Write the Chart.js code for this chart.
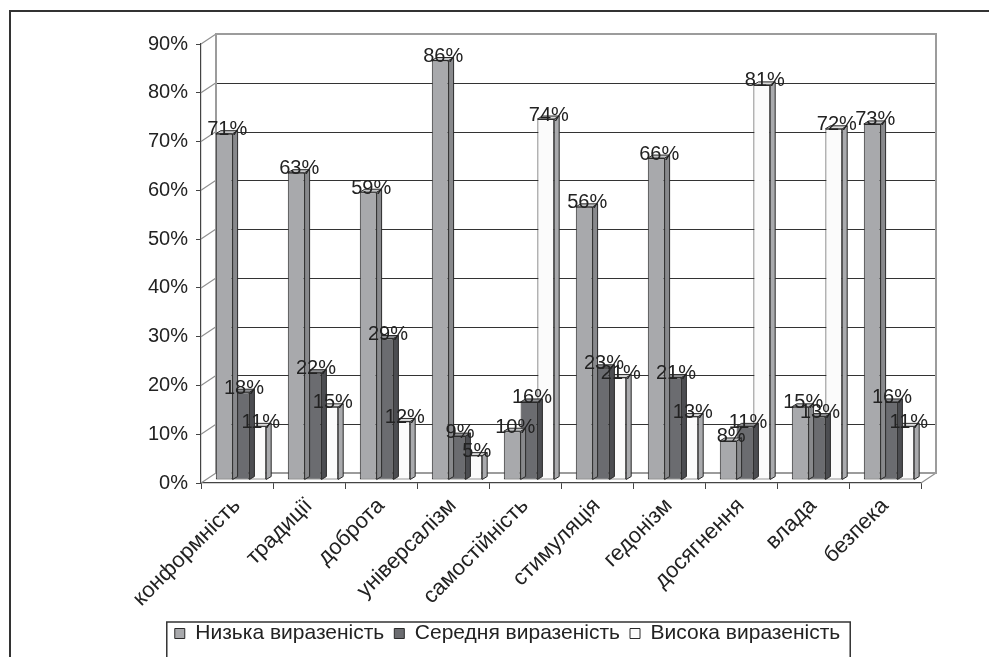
<!DOCTYPE html>
<html>
<head>
<meta charset="utf-8">
<script src="https://cdn.jsdelivr.net/npm/chart.js@4.4.1/dist/chart.umd.min.js"></script>
<style>
  html,body{margin:0;padding:0;background:#fff;overflow:hidden}
  #wrap{width:989px;height:657px}
</style>
</head>
<body>
<div id="wrap"><canvas id="chart" width="989" height="657"></canvas></div>
<script>
/* ---------- DATA ---------- */
const categories = ['конформність','традиції','доброта','універсалізм','самостійність','стимуляція','гедонізм','досягнення','влада','безпека'];
const seriesNames = ['Низька виразеність','Середня виразеність','Висока виразеність'];
const lowValues  = [71, 63, 59, 86, 10, 56, 66,  8, 15, 73];
const midValues  = [18, 22, 29,  9, 16, 23, 21, 11, 13, 16];
const highValues = [11, 15, 12,  5, 74, 21, 13, 81, 72, 11];
const yMax = 90, yStep = 10;

/* ---------- LOOK ---------- */
const FONT = '"Liberation Sans", Arial, sans-serif';
const fronts = ['#a8a9ac', '#6b6c70', '#fbfbfb'];
const sides  = ['#88898c', '#4c4d51', '#a9aaad'];
const tops   = ['#c4c5c7', '#8d8e91', '#d9d9d9'];
const DX = 15, DY = -10;  // back wall offset
const BX = 4,  BY = -3;   // bars sit between front axis and wall
const SX = 5,  SY = -3;   // bar depth

Chart.defaults.font.family = FONT;
Chart.defaults.color = '#222';

const wall3d = {
  id: 'wall3d',
  beforeDraw(chart){
    const c = chart.ctx;
    c.save();
    c.fillStyle = '#fff'; c.fillRect(0, 0, chart.width, chart.height);
    c.strokeStyle = '#333'; c.lineWidth = 2;
    c.beginPath(); c.moveTo(10, 720); c.lineTo(10, 11); c.lineTo(1000, 11); c.stroke();
    c.restore();
  },
  beforeDatasetsDraw(chart){
    const {ctx, chartArea: a, scales: {y}} = chart;
    const y0 = y.getPixelForValue(0), yTop = y.getPixelForValue(yMax);
    ctx.save();
    // gridlines on the back wall
    ctx.strokeStyle = '#333'; ctx.lineWidth = 1;
    y.ticks.forEach(t => {
      if (t.value <= 0 || t.value >= yMax) return;
      const py = Math.round(y.getPixelForValue(t.value) + DY) + 0.5;
      ctx.beginPath(); ctx.moveTo(a.left + DX, py); ctx.lineTo(a.right + DX, py); ctx.stroke();
    });
    // side wall diagonals
    ctx.strokeStyle = '#8f8f8f'; ctx.lineWidth = 1.2;
    y.ticks.forEach(t => {
      const py = y.getPixelForValue(t.value);
      ctx.beginPath(); ctx.moveTo(a.left, py); ctx.lineTo(a.left + DX, py + DY); ctx.stroke();
    });
    ctx.beginPath(); ctx.moveTo(a.right, y0); ctx.lineTo(a.right + DX, y0 + DY); ctx.stroke();
    // back wall outline
    ctx.strokeStyle = '#9c9c9c'; ctx.lineWidth = 2;
    ctx.beginPath();
    ctx.moveTo(a.left + DX, y0 + DY); ctx.lineTo(a.left + DX, yTop + DY);
    ctx.lineTo(a.right + DX, yTop + DY); ctx.lineTo(a.right + DX, y0 + DY);
    ctx.lineTo(a.left + DX, y0 + DY);
    ctx.stroke();
    ctx.restore();
    ctx.save();
    ctx.translate(BX, BY);
  },
  afterDatasetDraw(chart, args){
    const ctx = chart.ctx, i = args.index;
    ctx.save();
    ctx.strokeStyle = '#2a2a2a'; ctx.lineWidth = 1; ctx.lineJoin = 'round';
    args.meta.data.forEach(bar => {
      const {x, y, base, width} = bar.getProps(['x','y','base','width'], true);
      const l = x - width/2, r = x + width/2;
      ctx.fillStyle = sides[i];
      ctx.beginPath();
      ctx.moveTo(r, base); ctx.lineTo(r + SX, base + SY); ctx.lineTo(r + SX, y + SY); ctx.lineTo(r, y);
      ctx.closePath(); ctx.fill(); ctx.stroke();
      ctx.fillStyle = tops[i];
      ctx.beginPath();
      ctx.moveTo(l, y); ctx.lineTo(l + SX, y + SY); ctx.lineTo(r + SX, y + SY); ctx.lineTo(r, y);
      ctx.closePath(); ctx.fill(); ctx.stroke();
    });
    ctx.restore();
  },
  afterDatasetsDraw(chart){
    const ctx = chart.ctx;
    ctx.save();
    ctx.font = '20px ' + FONT; ctx.fillStyle = '#222';
    ctx.textAlign = 'center'; ctx.textBaseline = 'middle';
    chart.data.datasets.forEach((ds, i) => {
      chart.getDatasetMeta(i).data.forEach((bar, j) => {
        ctx.fillText(ds.data[j] + '%', bar.x + 3, bar.y - 4);
      });
    });
    ctx.restore();
    ctx.restore(); // undo bar translation
  },
  afterDraw(chart){
    const hb = chart.legend.legendHitBoxes;
    if (!hb || !hb.length) return;
    const last = hb[hb.length - 1];
    const c = chart.ctx;
    c.save();
    c.strokeStyle = '#333'; c.lineWidth = 1.5;
    const left = hb[0].left - 8, right = last.left + last.width + 10;
    c.strokeRect(left, 622, right - left, 100);
    c.restore();
  }
};

new Chart(document.getElementById('chart'), {
  type: 'bar',
  data: {
    labels: categories,
    datasets: [lowValues, midValues, highValues].map((vals, i) => ({
      label: seriesNames[i],
      data: vals,
      backgroundColor: fronts[i],
      borderColor: '#2a2a2a',
      borderWidth: 1,
      borderSkipped: false,
      categoryPercentage: 0.7,
      barPercentage: 1,
      clip: false
    }))
  },
  options: {
    responsive: false,
    animation: false,
    devicePixelRatio: 1,
    layout: {padding: {left: 94, right: 68, top: 44, bottom: 3}},
    plugins: {
      tooltip: {enabled: false},
      legend: {
        position: 'bottom',
        labels: {boxWidth: 10, boxHeight: 10, padding: 10, color: '#222', font: {size: 21}}
      }
    },
    scales: {
      y: {
        min: 0, max: yMax,
        afterFit: s => { s.width = 107; },
        ticks: {stepSize: yStep, padding: 8, color: '#222', font: {size: 20}, callback: v => v + '%'},
        grid: {drawOnChartArea: false, drawTicks: true, tickLength: 5, color: '#444', lineWidth: 1},
        border: {color: '#444', width: 1.2}
      },
      x: {
        afterFit: s => { s.height = 130; },
        ticks: {autoSkip: false, minRotation: 45, maxRotation: 45, padding: 4, color: '#222', font: {size: 22}},
        grid: {drawOnChartArea: false, drawTicks: true, tickLength: 6, color: '#444', lineWidth: 1, offset: true},
        border: {color: '#444', width: 1.2}
      }
    }
  },
  plugins: [wall3d]
});
</script>
</body>
</html>
